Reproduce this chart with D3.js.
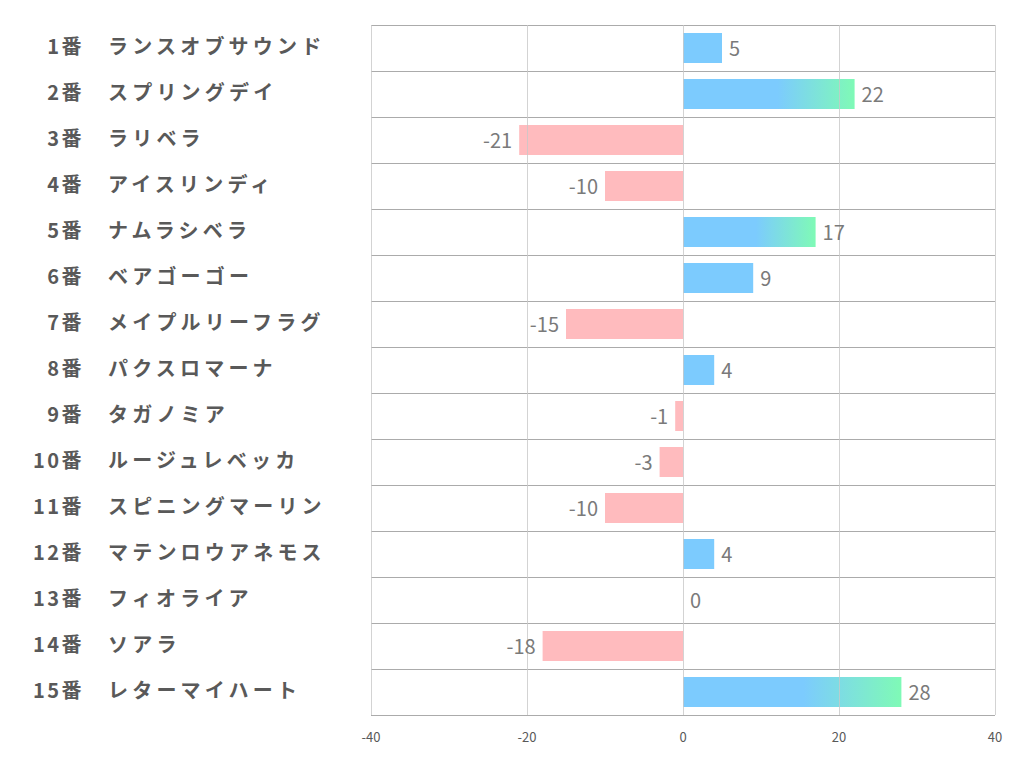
<!DOCTYPE html>
<html><head><meta charset="utf-8">
<script src="https://cdn.jsdelivr.net/npm/d3@7"></script>
<style>body{margin:0;background:#fff;} svg{display:block;}</style>
</head><body>
<svg id="chart" width="1022" height="782"></svg>
<script>
const numbers = ["1番","2番","3番","4番","5番","6番","7番","8番","9番","10番","11番","12番","13番","14番","15番"];
const names = ["ランスオブサウンド","スプリングデイ","ラリベラ","アイスリンディ","ナムラシベラ","ベアゴーゴー","メイプルリーフラグ","パクスロマーナ","タガノミア","ルージュレベッカ","スピニングマーリン","マテンロウアネモス","フィオライア","ソアラ","レターマイハート"];
const values = [5,22,-21,-10,17,9,-15,4,-1,-3,-10,4,0,-18,28];
const ticks = [-40,-20,0,20,40];

(function(){
const svg = d3.select("#chart");
const pL = 371, pR = 995, pT = 25, pB = 715;
const x = d3.scaleLinear().domain([-40,40]).range([pL,pR]);
const y = d3.scaleBand().domain(d3.range(values.length)).range([pT,pB]).paddingInner(0).paddingOuter(0);
const barH = 30;

const defs = svg.append("defs");
const grad = defs.append("linearGradient").attr("id","g").attr("x1","0").attr("x2","1").attr("y1","0").attr("y2","0");
grad.append("stop").attr("offset","0").attr("stop-color","#7ccbfe");
grad.append("stop").attr("offset","0.55").attr("stop-color","#7ccbfe");
grad.append("stop").attr("offset","1").attr("stop-color","#7ffab6");

svg.append("g").selectAll("line").data(d3.range(values.length+1)).join("line")
  .attr("x1",pL).attr("x2",pR)
  .attr("y1",i=>pT + y.bandwidth()*i + 0.5).attr("y2",i=>pT + y.bandwidth()*i + 0.5)
  .attr("stroke","#ababab").attr("stroke-width",1);

svg.append("g").selectAll("rect").data(values).join("rect")
  .attr("x",d=>x(Math.min(0,d)))
  .attr("width",d=>Math.abs(x(d)-x(0)))
  .attr("y",(d,i)=>y(i)+(y.bandwidth()-barH)/2)
  .attr("height",barH)
  .attr("fill",d=>d<0?"#ffbbbe":(d>=15?"url(#g)":"#7ccbfe"));

svg.append("g").selectAll("line").data(ticks).join("line")
  .attr("x1",d=>Math.round(x(d))+0.5).attr("x2",d=>Math.round(x(d))+0.5)
  .attr("y1",pT).attr("y2",pB)
  .attr("stroke","#c8c8c8").attr("stroke-opacity",0.8).attr("stroke-width",1);

svg.append("g").selectAll("text").data(ticks).join("text")
  .attr("x",d=>x(d)).attr("y",742)
  .attr("text-anchor","middle")
  .attr("font-family","'Noto Sans CJK JP','Noto Sans',sans-serif")
  .attr("font-size",13).attr("fill","#595959")
  .text(d=>d);

svg.append("g").selectAll("text").data(values).join("text")
  .attr("x",d=>d<0?x(d)-7:x(d)+7)
  .attr("y",(d,i)=>y(i)+y.bandwidth()/2+1)
  .attr("dy","0.35em")
  .attr("text-anchor",d=>d<0?"end":"start")
  .attr("font-family","'Noto Sans CJK JP','Noto Sans',sans-serif")
  .attr("font-size",20).attr("fill","#7a7a7a")
  .text(d=>d);

const lab = svg.append("g").attr("font-family","'Noto Sans CJK JP',sans-serif").attr("font-weight","bold").attr("font-size",20).attr("fill","#595959");
lab.selectAll("text.num").data(numbers).join("text").attr("class","num")
  .attr("x",84).attr("y",(d,i)=>y(i)+y.bandwidth()/2-1).attr("dy","0.35em")
  .attr("letter-spacing",2.5)
  .attr("text-anchor","end").text(d=>d);
lab.selectAll("text.name").data(names).join("text").attr("class","name")
  .attr("x",108).attr("y",(d,i)=>y(i)+y.bandwidth()/2-1).attr("dy","0.35em")
  .attr("letter-spacing",4.2)
  .attr("text-anchor","start").text(d=>d);
})();
</script>
</body></html>
